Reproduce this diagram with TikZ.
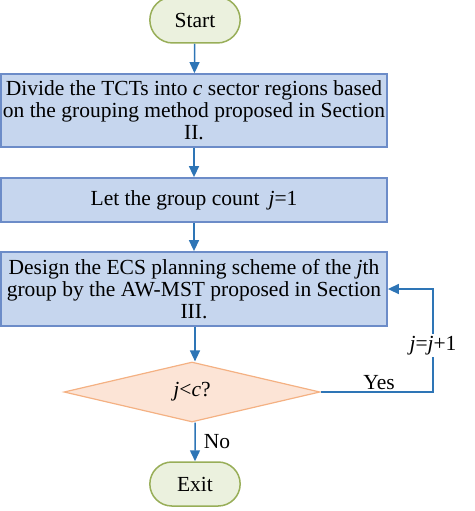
\documentclass[tikz,border=0pt]{standalone}
\usepackage{fontspec}
\setmainfont{Liberation Serif}
\usetikzlibrary{shapes.geometric,shapes.misc,arrows.meta}
\definecolor{boxfill}{HTML}{C6D6EE}
\definecolor{boxline}{HTML}{6C8CC8}
\definecolor{termfill}{HTML}{EBF1DE}
\definecolor{termline}{HTML}{98AE58}
\definecolor{decfill}{HTML}{FCE4D6}
\definecolor{decline}{HTML}{F4B183}
\definecolor{flowline}{HTML}{2E75B6}
\tikzset{
  terminal/.style = {shape=rounded rectangle, draw=termline, fill=termfill,
                     line width=1.5pt, minimum width=97pt, minimum height=46pt},
  process/.style  = {shape=rectangle, draw=boxline, fill=boxfill,
                     line width=1.8pt, align=center, minimum width=386pt,
                     inner sep=0pt},
  decision/.style = {shape=diamond, draw=decline, fill=decfill, line width=1.2pt,
                     minimum width=256pt, minimum height=60pt, inner sep=0pt},
  flow/.style     = {draw=flowline, line width=1.5pt,
                     -{Triangle[width=10pt,length=11pt]}},
  lbl/.style      = {inner sep=2pt}
}
\begin{document}
\begin{tikzpicture}
 [x=1pt, y=-1pt, font=\fontsize{21.5}{22}\selectfont]
  \useasboundingbox (0,0) rectangle (474,511);

  \node [terminal] (start) at (195,20) {Start};
  \node [process, minimum height=73pt] (divide) at (194,110.5)
    {Divide the TCTs into \textit{c} sector regions based\\
     on the grouping method proposed in Section\\ II.};
  \node [process, minimum height=44pt] (init) at (194,200)
    {Let the group count \,\textit{j}=1};
  \node [process, minimum height=74pt] (design) at (194,289)
    {Design the ECS planning scheme of the \textit{j}th\\
     group by the AW-MST proposed in Section\\ III.};
  \node [decision] (test) at (192,392) {\textit{j}<\textit{c}?};
  \node [terminal, minimum height=44pt] (exit) at (195,484) {Exit};
  \coordinate (turn) at (433,392);

  \draw [flow] (start) -- (divide);
  \draw [flow] (divide) -- (init);
  \draw [flow] (init) -- (design);
  \draw [flow] (design.south -| start) -- (test.north -| start);
  \draw [flow] (test.south -| start) -- node [lbl, right, xshift=6pt] {No} (exit);
  \draw [flow] (test.east) -- node [lbl, above, pos=0.52] {Yes} (turn)
    -- node [lbl, fill=white, pos=0.45] {\textit{j}=\textit{j}+1} (turn |- design)
    -- (design.east);
\end{tikzpicture}
\end{document}
